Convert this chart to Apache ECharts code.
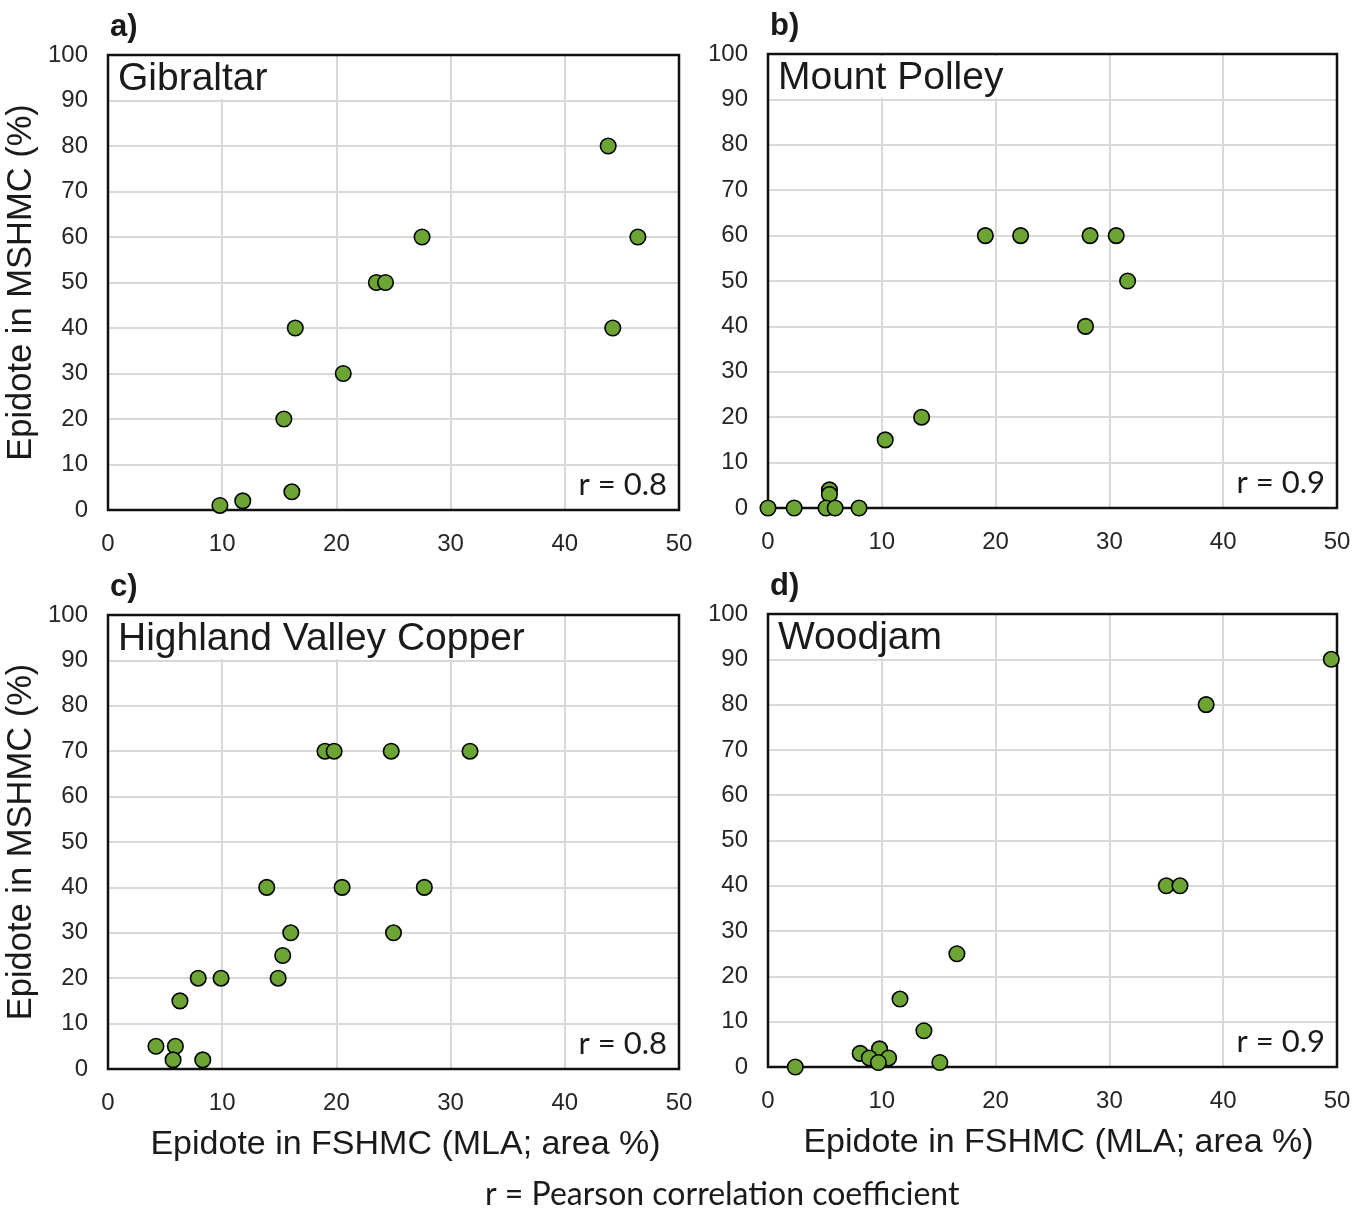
<!DOCTYPE html>
<html>
<head>
<meta charset="utf-8">
<script src="https://cdn.jsdelivr.net/npm/echarts@6/dist/echarts.min.js"></script>
<style>html,body{margin:0;padding:0;background:#fff}#c{width:1368px;height:1213px}</style>
</head>
<body>
<div id="c"></div>
<script>
// ---- data ----
const panelNames = ['Gibraltar', 'Mount Polley', 'Highland Valley Copper', 'Woodjam'];
const panelLetters = ['a)', 'b)', 'c)', 'd)'];
const rValues = ['r = 0.8', 'r = 0.9', 'r = 0.8', 'r = 0.9'];
const xTicks = [0, 10, 20, 30, 40, 50];
const yTicks = [0, 10, 20, 30, 40, 50, 60, 70, 80, 90, 100];

const gibraltarX = [43.8, 46.4, 44.2, 27.5, 23.5, 24.3, 16.4, 20.6, 15.4, 16.1, 11.8, 9.8];
const gibraltarY = [80, 60, 40, 60, 50, 50, 40, 30, 20, 4, 2, 1];

const mountPolleyX = [19.1, 22.2, 28.3, 30.6, 31.6, 27.9, 13.5, 10.3, 5.4, 5.4, 0, 2.3, 5.1, 5.9, 8.0];
const mountPolleyY = [60, 60, 60, 60, 50, 40, 20, 15, 4, 3, 0, 0, 0, 0, 0];

const hvcX = [19.0, 19.8, 24.8, 31.7, 13.9, 20.5, 27.7, 16.0, 25.0, 15.3, 14.9, 7.9, 9.9, 6.3, 4.2, 5.9, 5.7, 8.3];
const hvcY = [70, 70, 70, 70, 40, 40, 40, 30, 30, 25, 20, 20, 20, 15, 5, 5, 2, 2];

const woodjamX = [49.5, 38.5, 35.0, 36.2, 16.6, 11.6, 13.7, 8.1, 9.8, 8.9, 10.6, 9.7, 15.1, 2.4];
const woodjamY = [90, 80, 40, 40, 25, 15, 8, 3, 4, 2, 2, 1, 1, 0];

const xTitle = 'Epidote in FSHMC (MLA; area %)';
const yTitle = 'Epidote in MSHMC (%)';
const footnote = 'r = Pearson correlation coefficient';

// ---- layout ----
const grids = [
  {left: 108, top: 55, width: 571, height: 455},
  {left: 768, top: 54, width: 569, height: 454},
  {left: 108, top: 615, width: 571, height: 454},
  {left: 768, top: 614, width: 569, height: 453}
];
const xNamePad = [0, 0, 24, 12];
const seriesX = [gibraltarX, mountPolleyX, hvcX, woodjamX];
const seriesY = [gibraltarY, mountPolleyY, hvcY, woodjamY];

const chart = echarts.init(document.getElementById('c'), null, {renderer: 'canvas'});

const labelFont = 'Liberation Sans, Arial, sans-serif';
const splitStyle = {show: true, showMinLine: false, showMaxLine: false, lineStyle: {color: '#d9d9d9', width: 2}};
const option = {
  backgroundColor: '#fff',
  animation: false,
  grid: grids.map(g => Object.assign({show: true, borderColor: '#111', borderWidth: 2.5, backgroundColor: 'transparent', z: 3}, g)),
  xAxis: grids.map((g, i) => ({
    gridIndex: i, type: 'value', min: xTicks[0], max: xTicks[xTicks.length - 1], interval: xTicks[1] - xTicks[0],
    axisLine: {show: false}, axisTick: {show: false},
    splitLine: splitStyle,
    axisLabel: {fontSize: 24, color: '#262626', fontFamily: labelFont, margin: 22},
    name: i >= 2 ? xTitle : '', nameLocation: 'middle', nameGap: 59,
    nameTextStyle: {fontSize: 34, color: '#1a1a1a', fontFamily: labelFont, padding: [0, 0, 0, xNamePad[i]]}
  })),
  yAxis: grids.map((g, i) => ({
    gridIndex: i, type: 'value', min: yTicks[0], max: yTicks[yTicks.length - 1], interval: yTicks[1] - yTicks[0],
    axisLine: {show: false}, axisTick: {show: false},
    splitLine: splitStyle,
    axisLabel: {fontSize: 24, color: '#262626', fontFamily: labelFont, margin: 20},
    name: i % 2 === 0 ? yTitle : '', nameLocation: 'middle', nameGap: 69, nameRotate: 90,
    nameTextStyle: {fontSize: 34.5, color: '#1a1a1a', fontFamily: labelFont}
  })),
  title: [].concat(
    grids.map((g, i) => ({
      text: panelNames[i], left: g.left + 2, top: g.top + 2,
      padding: [2, 8, 0, 8], backgroundColor: '#fff',
      textStyle: {fontSize: 39, lineHeight: 40, fontWeight: 'normal', color: '#1a1a1a', fontFamily: labelFont}
    })),
    grids.map((g, i) => ({
      text: panelLetters[i], left: g.left + 2, top: g.top - 43, padding: 0,
      textStyle: {fontSize: 31, fontWeight: 'bold', color: '#1a1a1a', fontFamily: labelFont}
    })),
    grids.map((g, i) => ({
      text: rValues[i], right: 1368 - (g.left + g.width) + 12, top: g.top + g.height - 41, padding: 0,
      textStyle: {fontSize: 31, fontWeight: 'normal', color: '#1a1a1a', fontFamily: 'Lato, sans-serif'}
    })),
    [{
      text: footnote, left: 485, top: 1179, padding: 0,
      textStyle: {fontSize: 32, fontWeight: 'normal', color: '#1a1a1a', fontFamily: 'Lato, sans-serif'}
    }]
  ),
  series: grids.map((g, i) => ({
    type: 'scatter', xAxisIndex: i, yAxisIndex: i, z: 5,
    data: seriesX[i].map((x, k) => [x, seriesY[i][k]]),
    symbol: 'circle', symbolSize: 15.5,
    itemStyle: {color: '#6ca534', borderColor: '#000', borderWidth: 1.6, opacity: 1},
    clip: false
  }))
};
chart.setOption(option);
</script>
</body>
</html>
